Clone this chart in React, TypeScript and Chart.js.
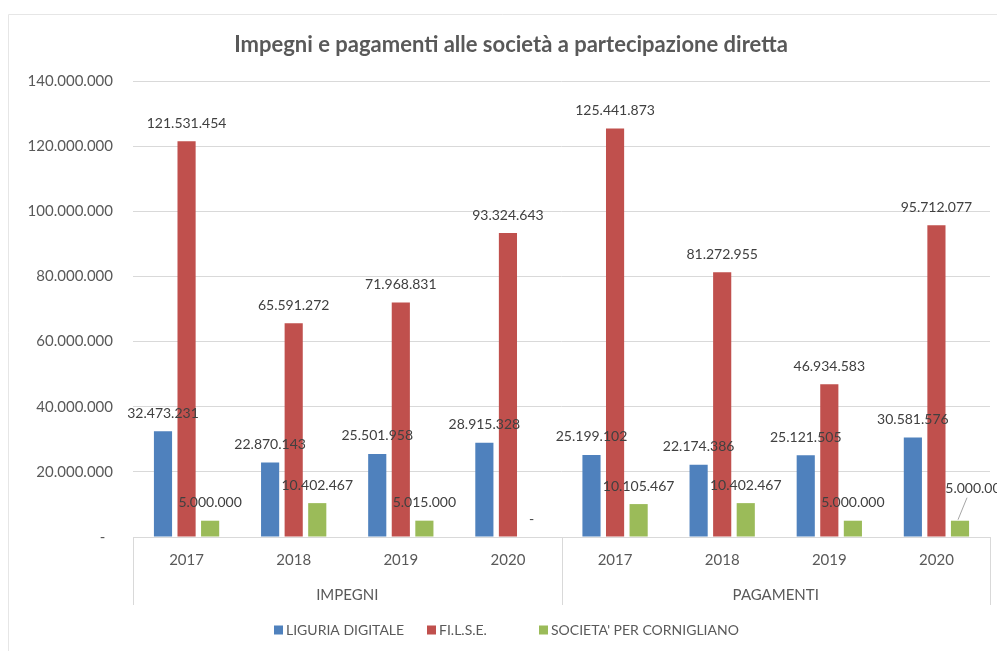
import React, { useEffect, useRef } from "react";
import { Chart, registerables } from "chart.js";

Chart.register(...registerables);

const categories = ["2017", "2018", "2019", "2020", "2017", "2018", "2019", "2020"];
const groups = ["IMPEGNI", "PAGAMENTI"];
const groupSize = 4;
const seriesNames = ["LIGURIA DIGITALE", "FI.L.S.E.", "SOCIETA' PER CORNIGLIANO"];
const liguriaDigitale = [32473231, 22870143, 25501958, 28915328, 25199102, 22174386, 25121505, 30581576];
const filse = [121531454, 65591272, 71968831, 93324643, 125441873, 81272955, 46934583, 95712077];
const societaCornigliano = [5000000, 10402467, 5015000, 0, 10105467, 10402467, 5000000, 5000000];
const yMax = 140000000;
const yStep = 20000000;
const titleText = "Impegni e pagamenti alle società a partecipazione diretta";

const colors = ["#4f81bd", "#c0504d", "#9bbb59"];
const textColor = "#595959";
const lineColor = "#d9d9d9";
const FONT = "Lato, 'Open Sans', sans-serif";

function fmt(v: number): string {
  if (v === 0) return "-";
  return String(Math.round(v)).replace(/\B(?=(\d{3})+(?!\d))/g, ".");
}

export default function App() {
  const ref = useRef<HTMLCanvasElement | null>(null);

  useEffect(() => {
    if (!ref.current) return;

    const framePlugin = {
      id: "frame",
      beforeDraw(chart: any) {
        const c = chart.ctx;
        c.save();
        c.fillStyle = "#ffffff";
        c.fillRect(0, 0, chart.width, chart.height);
        c.strokeStyle = "#e6e6e6";
        c.lineWidth = 1;
        c.beginPath();
        c.moveTo(8.5, chart.height);
        c.lineTo(8.5, 14.5);
        c.lineTo(chart.width, 14.5);
        c.stroke();
        c.restore();
      },
    };

    const titlePlugin = {
      id: "customTitle",
      afterDraw(chart: any) {
        const c = chart.ctx;
        c.save();
        c.font = `bold 22px ${FONT}`;
        c.fillStyle = textColor;
        c.textAlign = "center";
        c.textBaseline = "middle";
        c.fillText(titleText, 511, 45);
        c.restore();
      },
    };

    const labelPlugin = {
      id: "dataLabels",
      afterDatasetsDraw(chart: any) {
        const c = chart.ctx;
        c.save();
        c.font = `14px ${FONT}`;
        c.textAlign = "center";
        c.textBaseline = "middle";
        chart.data.datasets.forEach((ds: any, di: number) => {
          const meta = chart.getDatasetMeta(di);
          meta.data.forEach((bar: any, i: number) => {
            const v = ds.data[i];
            const text = fmt(v);
            let lx = bar.x;
            let ly = bar.y - 18;
            const w = c.measureText(text).width;
            if (lx + w / 2 > chart.width - 8) {
              // label moved aside with a leader line, as in the source
              lx += 17;
              ly -= 14;
              c.strokeStyle = "#a6a6a6";
              c.lineWidth = 1;
              c.beginPath();
              c.moveTo(bar.x - 2, bar.y - 1);
              c.lineTo(bar.x + 7, ly + 9);
              c.stroke();
            }
            c.fillStyle = "#404040";
            c.fillText(text, lx, ly);
          });
        });
        c.restore();
      },
    };

    const groupAxisPlugin = {
      id: "groupAxis",
      afterDraw(chart: any) {
        const c = chart.ctx;
        const a = chart.chartArea;
        const catW = (a.right - a.left) / categories.length;
        c.save();
        c.strokeStyle = lineColor;
        c.lineWidth = 1;
        const bounds: number[] = [];
        for (let g = 0; g <= groups.length; g++) bounds.push(a.left + g * groupSize * catW);
        bounds.forEach((x) => {
          const px = Math.round(x) + 0.5;
          c.beginPath();
          c.moveTo(px, a.bottom);
          c.lineTo(px, a.bottom + 68);
          c.stroke();
        });
        c.font = `15px ${FONT}`;
        c.fillStyle = textColor;
        c.textAlign = "center";
        c.textBaseline = "middle";
        groups.forEach((g, gi) => {
          c.fillText(g, (bounds[gi] + bounds[gi + 1]) / 2, a.bottom + 58);
        });
        c.restore();
      },
    };

    const legendPlugin = {
      id: "customLegend",
      afterDraw(chart: any) {
        const c = chart.ctx;
        c.save();
        c.font = `14px ${FONT}`;
        c.textBaseline = "middle";
        c.textAlign = "left";
        const box = 9;
        const gap = 3;
        const starts = [274, 427, 539];
        const y = 630;
        seriesNames.forEach((n, i) => {
          const x = starts[i];
          c.fillStyle = colors[i];
          c.fillRect(x, y - box / 2, box, box);
          c.fillStyle = textColor;
          c.fillText(n, x + box + gap, y);
        });
        c.restore();
      },
    };

    const chart = new Chart(ref.current, {
      type: "bar",
      data: {
        labels: categories,
        datasets: [
          { label: seriesNames[0], data: liguriaDigitale, backgroundColor: colors[0] },
          { label: seriesNames[1], data: filse, backgroundColor: colors[1] },
          { label: seriesNames[2], data: societaCornigliano, backgroundColor: colors[2] },
        ].map((d) => ({ ...d, barPercentage: 0.77, categoryPercentage: 0.66, borderWidth: 0 })),
      },
      options: {
        responsive: false,
        devicePixelRatio: 1,
        animation: false,
        layout: { padding: { top: 81, right: 7, left: 0, bottom: 0 } },
        plugins: {
          legend: { display: false },
          title: { display: false },
          tooltip: { enabled: false },
        },
        scales: {
          x: {
            grid: { display: false },
            border: { display: true, color: lineColor },
            ticks: {
              color: textColor,
              font: { family: FONT, size: 15 },
              padding: 6,
              maxRotation: 0,
              autoSkip: false,
            },
            afterFit(scale: any) {
              scale.height = 114;
            },
          },
          y: {
            min: 0,
            max: yMax,
            grid: { color: lineColor, drawTicks: false },
            border: { display: false },
            ticks: {
              stepSize: yStep,
              color: textColor,
              font: { family: FONT, size: 15 },
              padding: 20,
              callback: (v: any) => (Number(v) === 0 ? "-  " : fmt(Number(v))),
            },
            afterFit(scale: any) {
              scale.width = 133;
            },
          },
        },
      },
      plugins: [framePlugin, titlePlugin, labelPlugin, groupAxisPlugin, legendPlugin],
    } as any);

    return () => chart.destroy();
  }, []);

  return (
    <div style={{ position: "fixed", left: 0, top: 0, width: 997, height: 651, background: "#fff" }}>
      <canvas ref={ref} width={997} height={651} style={{ width: 997, height: 651, display: "block" }} />
    </div>
  );
}
